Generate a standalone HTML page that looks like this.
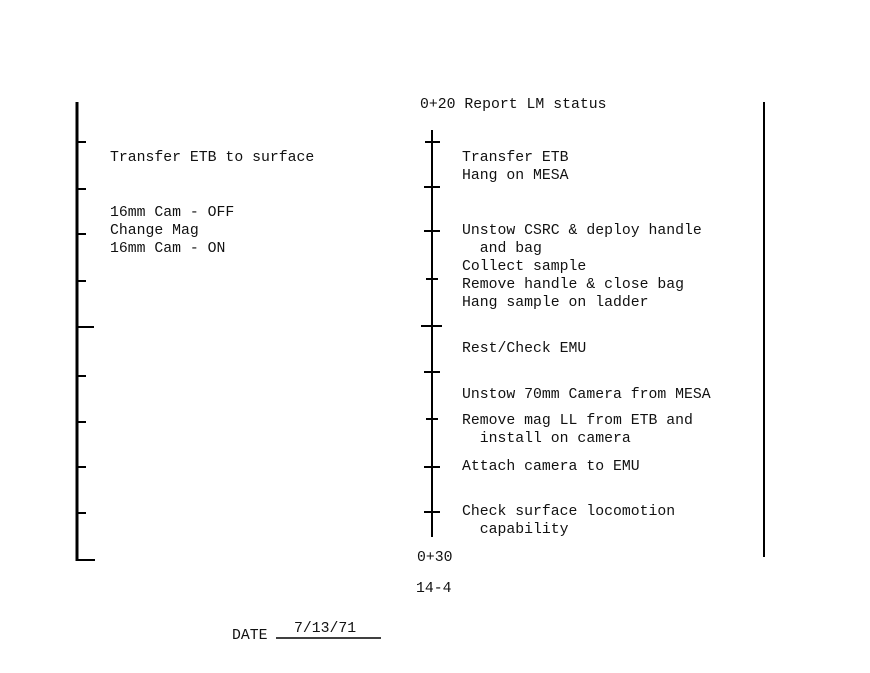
<!DOCTYPE html>
<html><head><style>
body{margin:0;width:870px;height:673px;background:#fff;position:relative;overflow:hidden;font-family:"Liberation Mono",monospace;font-size:14.8px;color:#111}
.t{position:absolute;white-space:pre;line-height:18px}
</style></head><body>
<svg width="870" height="673" style="position:absolute;left:0;top:0">
<g stroke="#000" fill="none">
<line x1="77" y1="102" x2="77" y2="561" stroke-width="3"/>
<g stroke-width="2">
<line x1="77" y1="142" x2="86" y2="142"/><line x1="77" y1="189" x2="86" y2="189"/>
<line x1="77" y1="234" x2="86" y2="234"/><line x1="77" y1="281" x2="86" y2="281"/>
<line x1="77" y1="327" x2="94" y2="327"/><line x1="77" y1="376" x2="86" y2="376"/>
<line x1="77" y1="422" x2="86" y2="422"/><line x1="77" y1="467" x2="86" y2="467"/>
<line x1="77" y1="513" x2="86" y2="513"/><line x1="77" y1="560" x2="95" y2="560"/>
</g>
<line x1="432" y1="130" x2="432" y2="537" stroke-width="2"/>
<g stroke-width="2">
<line x1="425" y1="142" x2="440" y2="142"/><line x1="424" y1="187" x2="440" y2="187"/>
<line x1="424" y1="231" x2="440" y2="231"/><line x1="426" y1="279" x2="438" y2="279"/>
<line x1="421" y1="326" x2="442" y2="326"/><line x1="424" y1="372" x2="440" y2="372"/>
<line x1="426" y1="419" x2="438" y2="419"/><line x1="424" y1="467" x2="440" y2="467"/>
<line x1="424" y1="512" x2="440" y2="512"/>
</g>
<line x1="764" y1="102" x2="764" y2="557" stroke-width="2"/>
<line x1="276" y1="638" x2="381" y2="638" stroke-width="1.5"/>
</g></svg>
<div class="t" style="left:420px;top:96px">0+20 Report LM status</div>
<div class="t" style="left:110px;top:149px">Transfer ETB to surface</div>
<div class="t" style="left:110px;top:204px">16mm Cam - OFF
Change Mag
16mm Cam - ON</div>
<div class="t" style="left:462px;top:149px">Transfer ETB
Hang on MESA</div>
<div class="t" style="left:462px;top:222px">Unstow CSRC &amp; deploy handle
  and bag
Collect sample
Remove handle &amp; close bag
Hang sample on ladder</div>
<div class="t" style="left:462px;top:340px">Rest/Check EMU</div>
<div class="t" style="left:462px;top:386px">Unstow 70mm Camera from MESA</div>
<div class="t" style="left:462px;top:412px">Remove mag LL from ETB and
  install on camera</div>
<div class="t" style="left:462px;top:458px">Attach camera to EMU</div>
<div class="t" style="left:462px;top:503px">Check surface locomotion
  capability</div>
<div class="t" style="left:417px;top:549px">0+30</div>
<div class="t" style="left:416px;top:580px">14-4</div>
<div class="t" style="left:232px;top:627px">DATE</div>
<div class="t" style="left:294px;top:620px">7/13/71</div>
</body></html>
